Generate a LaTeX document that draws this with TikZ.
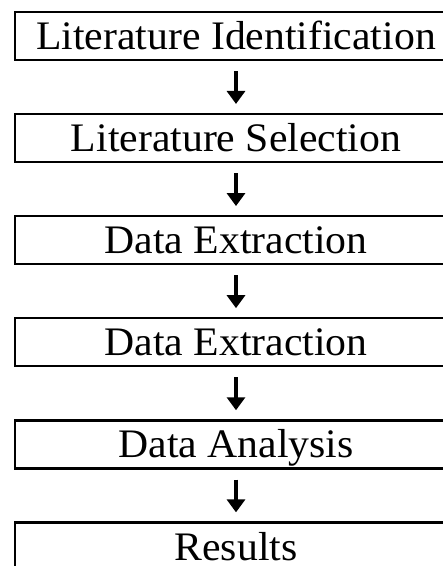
\documentclass[tikz,border=0pt]{standalone}
\usepackage{fontspec}
\setmainfont{Liberation Serif}[FakeStretch=1.03]
\usetikzlibrary{positioning,arrows.meta}
\begin{document}
\begin{tikzpicture}[x=1pt,y=1pt,
	stage/.style={draw,line width=2.3pt,minimum width=442pt,minimum height=48pt,inner sep=0pt,
		font=\fontsize{40.5}{48}\selectfont,text height=27pt,text depth=0pt},
	flow/.style={line width=3.4pt,-{Triangle[length=13pt,width=18pt]},shorten <=10pt,shorten >=9pt},
	node distance=51.8pt]
\useasboundingbox (0,0) rectangle (443,-566);
\clip (0,0) rectangle (443,-566);
\node[stage] (ident) at (236,-36) {Literature Identification};
\node[stage,below=of ident] (select) {Literature Selection};
\node[stage,below=of select] (extrA) {Data Extraction};
\node[stage,below=of extrA] (extrB) {Data Extraction};
\node[stage,below=of extrB] (analysis) {Data Analysis};
\node[stage,below=of analysis] (results) {Results};
\foreach \a/\b in {ident/select,select/extrA,extrA/extrB,extrB/analysis,analysis/results}
	\draw[flow] (\a) -- (\b);
\end{tikzpicture}
\end{document}
